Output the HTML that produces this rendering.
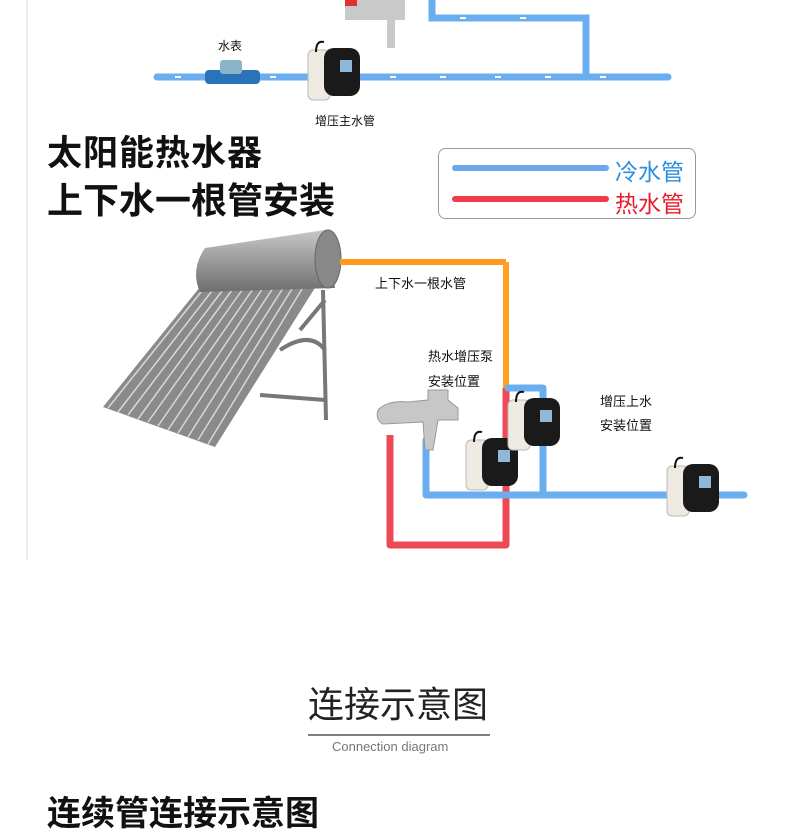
<!DOCTYPE html>
<html><head><meta charset="utf-8"><style>
html,body{margin:0;padding:0;background:#fff;}
body{width:800px;height:800px;overflow:hidden;position:relative;font-family:"Liberation Sans","Noto Sans CJK SC",sans-serif;}
.t{position:absolute;white-space:nowrap;color:#111;}
</style></head><body>
<svg width="800" height="800" style="position:absolute;left:0;top:0">
<defs>
<linearGradient id="tank" x1="0" y1="0" x2="0" y2="1"><stop offset="0" stop-color="#c8c8c8"/><stop offset="0.5" stop-color="#9a9a9a"/><stop offset="1" stop-color="#6e6e6e"/></linearGradient>
<g id="pump">
<rect x="0" y="8" width="22" height="50" rx="5" fill="#eeeae2" stroke="#bbb"/>
<rect x="16" y="6" width="36" height="48" rx="10" fill="#1a1a1a"/>
<rect x="32" y="18" width="12" height="12" fill="#8fb8d8"/>
<path d="M8 10 q0-12 8-10" stroke="#111" stroke-width="2" fill="none"/>
</g>
</defs>
<line x1="27" y1="0" x2="27" y2="560" stroke="#eee" stroke-width="2"/>
<g stroke="#6aaef0" stroke-width="7" stroke-linecap="round" fill="none">
<line x1="157" y1="77" x2="668" y2="77"/>
<polyline points="586,77 586,18 432,18 432,0"/>
</g>
<g fill="#fff">
<rect x="175" y="76" width="6" height="2"/><rect x="270" y="76" width="6" height="2"/><rect x="390" y="76" width="6" height="2"/><rect x="440" y="76" width="6" height="2"/><rect x="495" y="76" width="6" height="2"/><rect x="545" y="76" width="6" height="2"/><rect x="600" y="76" width="6" height="2"/>
<rect x="460" y="17" width="6" height="2"/><rect x="520" y="17" width="6" height="2"/>
</g>
<path d="M345 0 h60 v20 h-10 v28 h-8 v-28 h-42 z" fill="#c9c9c9"/>
<rect x="345" y="0" width="12" height="6" fill="#d33"/>
<rect x="205" y="70" width="55" height="14" rx="4" fill="#2a73b8"/>
<rect x="220" y="60" width="22" height="14" rx="3" fill="#8cb4c8"/>
<use href="#pump" x="308" y="42"/>
<rect x="438.5" y="148.5" width="257" height="70" rx="7" fill="#fff" stroke="#999"/>
<line x1="455" y1="168" x2="606" y2="168" stroke="#6aa8ec" stroke-width="6" stroke-linecap="round"/>
<line x1="455" y1="199" x2="606" y2="199" stroke="#ef3b4a" stroke-width="6" stroke-linecap="round"/>
<polygon points="200,287 318,283 215,447 103,407" fill="#8a8a8a"/>
<g stroke="#d8d8d8" stroke-width="1.5">
<line x1="205" y1="287" x2="108" y2="408"/><line x1="215" y1="287" x2="118" y2="412"/><line x1="225" y1="287" x2="128" y2="415"/><line x1="235" y1="286" x2="138" y2="419"/><line x1="245" y1="286" x2="148" y2="422"/><line x1="255" y1="286" x2="158" y2="426"/><line x1="265" y1="285" x2="168" y2="430"/><line x1="275" y1="285" x2="178" y2="433"/><line x1="285" y1="285" x2="188" y2="437"/><line x1="295" y1="284" x2="198" y2="440"/><line x1="305" y1="284" x2="208" y2="444"/>
</g>
<g stroke="#777" stroke-width="4" fill="none">
<line x1="323" y1="290" x2="326" y2="420"/><line x1="300" y1="330" x2="325" y2="300"/><line x1="260" y1="395" x2="325" y2="400"/><path d="M280 350 q30 -20 45 0"/>
</g>
<path d="M205 248 L325 230 L335 288 L200 292 Q190 270 205 248 z" fill="url(#tank)"/>
<ellipse cx="328" cy="259" rx="13" ry="29" fill="#888" stroke="#666"/>
<line x1="340" y1="262" x2="506" y2="262" stroke="#ff9a20" stroke-width="6"/>
<line x1="506" y1="262" x2="506" y2="388" stroke="#ffa020" stroke-width="6"/>
<polyline points="506,388 506,545 390,545 390,435" stroke="#ee4a55" stroke-width="7" fill="none" stroke-linejoin="round"/>
<g stroke="#6aaef0" stroke-width="7" fill="none" stroke-linecap="round" stroke-linejoin="round">
<polyline points="426,440 426,495 744,495"/>
<polyline points="508,388 543,388 543,495"/>
</g>
<path d="M378 410 q10 -10 30 -8 l20 -2 v-10 h20 v10 l10 8 v12 h-20 l-5 30 h-8 l-2-28 l-40 2 q-8 -4 -5 -14z" fill="#c7c7c7" stroke="#999"/>
<use href="#pump" x="466" y="432"/>
<use href="#pump" x="508" y="392"/>
<use href="#pump" x="667" y="458"/>
<line x1="308" y1="735" x2="490" y2="735" stroke="#333" stroke-width="1.2"/>
</svg>
<div class="t" style="left:218px;top:37px;font-size:12px">水表</div>
<div class="t" style="left:315px;top:112px;font-size:12px">增压主水管</div>
<div class="t" style="left:47px;top:125px;font-size:35px;font-weight:bold;letter-spacing:1px">太阳能热水器</div>
<div class="t" style="left:47px;top:172px;font-size:36px;font-weight:bold">上下水一根管安装</div>
<div class="t" style="left:615px;top:153px;font-size:23px;color:#2a8fe0">冷水管</div>
<div class="t" style="left:615px;top:185px;font-size:23px;color:#e81c2c">热水管</div>
<div class="t" style="left:375px;top:273px;font-size:13px">上下水一根水管</div>
<div class="t" style="left:428px;top:346px;font-size:13px">热水增压泵</div>
<div class="t" style="left:428px;top:371px;font-size:13px">安装位置</div>
<div class="t" style="left:600px;top:391px;font-size:13px">增压上水</div>
<div class="t" style="left:600px;top:415px;font-size:13px">安装位置</div>
<div class="t" style="left:308px;top:676px;font-size:36px;color:#222">连接示意图</div>
<div class="t" style="left:332px;top:739px;font-size:13px;color:#777">Connection diagram</div>
<div class="t" style="left:47px;top:786px;font-size:34px;font-weight:bold">连续管连接示意图</div>
</body></html>
